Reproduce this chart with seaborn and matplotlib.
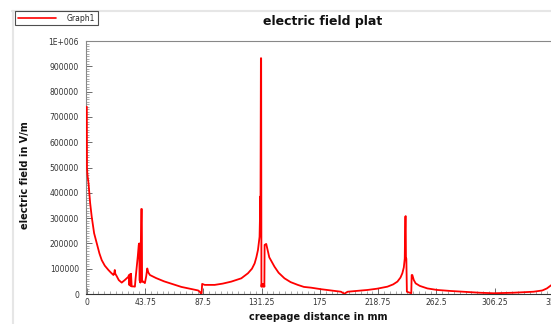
import numpy as np
import pandas as pd
import seaborn as sns
import matplotlib

matplotlib.use('Agg')
import matplotlib.pyplot as plt
from matplotlib.ticker import MultipleLocator
from matplotlib.lines import Line2D

# distancia de fuga (mm) y campo electrico (V/m)
distancia_mm = [
    0, 0.15, 0.5, 1.3, 2.5, 3.7, 5.5, 7.5, 9.5, 11.2, 13.5, 16.2, 18, 20,
    20.5, 21.0, 21.4, 22.4, 24, 26.2, 28.5, 31.2, 31.6, 32.0, 32.4, 32.8,
    33.2, 33.7, 35.0, 36.1, 36.6, 37.4, 38.3, 39.0, 39.4, 39.6, 40.2, 40.6,
    40.9, 41.3, 41.5, 42.2, 43.6, 44.6, 45.4, 46.2, 47.4, 52, 58, 65, 71,
    78, 83.6, 84.8, 85.5, 86.2, 86.6, 88.5, 96, 102, 108.5, 116, 121, 124,
    126, 127.3, 128.5, 129.7, 130.0, 130.2, 130.35, 130.7, 130.9, 131.1,
    131.4, 131.8, 132.2, 132.6, 133.0, 133.3, 133.5, 134.7, 135.5, 137,
    140.9, 144, 148.4, 153, 158.4, 163, 168.4, 175.8, 183, 190.8, 193.3,
    195.8, 200, 210.8, 218, 225.7, 230, 233.2, 235.5, 236.9, 238.0, 238.7,
    239.1, 239.4, 239.6, 239.9, 240.3, 243.6, 243.9, 244.4, 245.5, 246.9,
    250, 255.7, 263, 273, 285, 295, 305.5, 320, 335.4, 342, 345.4, 348, 350
]
campo_vm = [
    740000, 500000, 470000, 437000, 360000, 305000, 240000, 200000, 160000,
    134000, 112000, 95000, 85000, 75000,
    80000, 95000, 80000, 71000, 55000, 45000, 55000, 68000, 75000, 35000,
    78000, 32000, 80000, 30000, 30000, 29000, 60000, 103000, 150000, 194000,
    200000, 55000, 45000, 200000, 336000, 336000, 48000, 50000, 43000,
    70000, 101000, 85000, 75000, 63000, 50000, 38000, 28000,
    20000, 14000, 9000, 3000, 3000, 40000, 36000, 36000, 41000, 49000,
    62000, 82000, 100000,
    121000, 145000, 174000, 226000, 300000, 385000, 250000, 932000, 932000,
    29000, 40000, 29000, 40000, 29000, 40000, 29000, 194000, 198000,
    180000, 145000,
    108000, 84000, 62000, 47000, 36000, 28000, 25000, 19000, 14000, 9000,
    1000, 9000, 11000, 16000, 21000, 29000, 38000, 49000, 65000, 82000,
    105000, 140000, 305000, 308000, 140000, 140000, 9000, 3000, 75000,
    75000, 55000, 42000, 32000, 22000, 16000, 12000, 8000, 5000, 3000,
    5000, 9000, 14000, 22000, 32000, 40000
]

yticks = [0, 100000, 200000, 300000, 400000, 500000, 600000, 700000,
          800000, 900000, 1000000]
ytick_labels = ['0', '100000', '200000', '300000', '400000', '500000',
                '600000', '700000', '800000', '900000', '1E+006']
xticks = [0, 43.75, 87.5, 131.25, 175, 218.75, 262.5, 306.25, 350]
xtick_labels = ['0', '43.75', '87.5', '131.25', '175', '218.75', '262.5',
                '306.25', '350']

df = pd.DataFrame({'distancia': distancia_mm, 'campo': campo_vm})

sns.set_style('white')
plt.rcParams['font.family'] = ['DejaVu Sans']

fig = plt.figure(figsize=(5.51, 3.24), dpi=100)
fig.patch.set_facecolor('white')
ax = fig.add_axes([86 / 551, 1 - 294 / 324, (553 - 86) / 551, (294 - 41) / 324])

sns.lineplot(data=df, x='distancia', y='campo', ax=ax, color='#ff0000',
             linewidth=1.3, sort=False, estimator=None, zorder=4)

ax.set_xlim(-0.6, 350)
ax.set_ylim(0, 1000000)
ax.set_xticks(xticks)
ax.set_xticklabels(xtick_labels)
ax.set_yticks(yticks)
ax.set_yticklabels(ytick_labels)
ax.xaxis.set_minor_locator(MultipleLocator(4.375))
ax.yaxis.set_minor_locator(MultipleLocator(10000))
ax.tick_params(bottom=True, left=True, top=False, right=False, which='both')
ax.tick_params(axis='both', which='major', direction='in', length=4,
               width=0.6, color='#555555', labelsize=5.5, labelcolor='#333333')
ax.tick_params(axis='both', which='minor', direction='in', length=2,
               width=0.5, color='#888888')
ax.tick_params(axis='x', pad=3)
ax.tick_params(axis='y', pad=5)
ax.set_xlabel('')
ax.set_ylabel('')

for lado in ['left', 'top']:
    ax.spines[lado].set_color('#888888')
    ax.spines[lado].set_linewidth(0.8)
ax.spines['bottom'].set_color('#333333')
ax.spines['bottom'].set_linewidth(0.8)
ax.spines['right'].set_visible(False)

# marco de la ventana
fig.add_artist(Line2D([12 / 551, 1], [1 - 11 / 324, 1 - 11 / 324],
                      transform=fig.transFigure, color='#e6e6e6', linewidth=1.5))
fig.add_artist(Line2D([13 / 551, 13 / 551], [0, 1 - 11 / 324],
                      transform=fig.transFigure, color='#e6e6e6', linewidth=1.5))

fig.text(323 / 551, 1 - 22 / 324, 'electric field plat', ha='center',
         va='center', fontsize=9, fontweight='bold', color='#111111')
fig.text(318 / 551, 1 - 317 / 324, 'creepage distance in mm', ha='center',
         va='center', fontsize=7, fontweight='bold', color='#111111',
         family=['Liberation Sans Narrow', 'DejaVu Sans'])
fig.text(25 / 551, 1 - 175 / 324, 'electric field in V/m', ha='center',
         va='center', rotation=90, fontsize=7, fontweight='bold',
         color='#111111', family=['Liberation Sans Narrow', 'DejaVu Sans'])

leg = fig.legend([Line2D([0], [0], color='#ff0000', linewidth=1.2)], ['Graph1'],
                 loc='upper left', bbox_to_anchor=(15 / 551, 1 - 11 / 324),
                 bbox_transform=fig.transFigure, fontsize=5.5, frameon=True,
                 fancybox=False, handlelength=5, borderpad=0.35,
                 handletextpad=1.4, borderaxespad=0)
leg.get_frame().set_edgecolor('#222222')
leg.get_frame().set_linewidth(0.8)

fig.savefig('out.png', dpi=100)
